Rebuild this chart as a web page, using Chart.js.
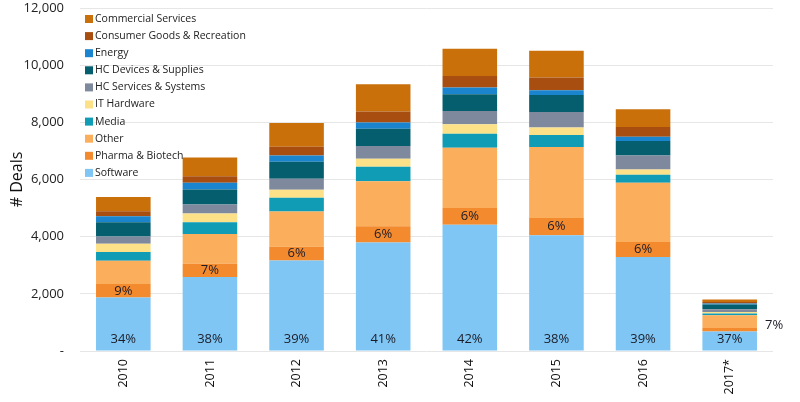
<!DOCTYPE html>
<html>
<head>
<meta charset="utf-8">
<script src="https://cdn.jsdelivr.net/npm/chart.js@4"></script>
<style>
  html, body { margin: 0; padding: 0; background: #fff; }
  #wrap { width: 800px; height: 402px; }
</style>
</head>
<body>
<div id="wrap"><canvas id="graficoDeals"></canvas></div>
<script>
const anos = ['2010', '2011', '2012', '2013', '2014', '2015', '2016', '2017*'];

// valores, de baixo para cima
const software   = [1870, 2586, 3169, 3800, 4421, 4046, 3288, 678];
const pharma     = [470, 467, 481, 561, 586, 611, 526, 127];
const other      = [818, 1042, 1228, 1579, 2105, 2477, 2070, 445];
const media      = [305, 407, 481, 505, 491, 421, 281, 58];
const itHardware = [291, 305, 281, 281, 326, 260, 186, 58];
const hcServices = [256, 316, 386, 442, 467, 547, 491, 94];
const hcDevices  = [491, 526, 597, 611, 586, 597, 502, 164];
const energy     = [211, 235, 221, 211, 235, 165, 154, 35];
const consumer   = [175, 232, 305, 386, 407, 446, 337, 58];
const commercial = [505, 656, 828, 958, 947, 933, 621, 82];

const pctSoftware = ['34%', '38%', '39%', '41%', '42%', '38%', '39%', '37%'];
const pctPharma   = ['9%', '7%', '6%', '6%', '6%', '6%', '6%', '7%'];

const yTicks = [0, 2000, 4000, 6000, 8000, 10000, 12000];

function serie(label, data, cor) {
    return {
        label,
        data,
        backgroundColor: cor,
        borderWidth: 0,
        barPercentage: 1,
        categoryPercentage: 0.63
    };
}

const datasets = [
    serie('Software', software, '#7FC6F4'),
    serie('Pharma & Biotech', pharma, '#F38A2E'),
    serie('Other', other, '#FBAE5C'),
    serie('Media', media, '#0F9CB4'),
    serie('IT Hardware', itHardware, '#FDE189'),
    serie('HC Services & Systems', hcServices, '#7E899D'),
    serie('HC Devices & Supplies', hcDevices, '#055E6D'),
    serie('Energy', energy, '#1B84CE'),
    serie('Consumer Goods & Recreation', consumer, '#A84E10'),
    serie('Commercial Services', commercial, '#C9700B')
];

const rotulosPlugin = {
    id: 'rotulos',
    afterDatasetsDraw(chart) {
        const ctx = chart.ctx;
        ctx.save();
        ctx.font = '13px "Open Sans"';
        ctx.fillStyle = '#1c1c28';
        ctx.textBaseline = 'middle';

        const metaSw = chart.getDatasetMeta(0);
        metaSw.data.forEach((bar, i) => {
            ctx.textAlign = 'center';
            ctx.fillText(pctSoftware[i], bar.x, bar.base - 11);
        });

        const metaPh = chart.getDatasetMeta(1);
        metaPh.data.forEach((bar, i) => {
            const meio = (bar.y + bar.base) / 2;
            if (i === metaPh.data.length - 1) {
                ctx.textAlign = 'left';
                ctx.fillText(pctPharma[i], bar.x + bar.width / 2 + 8, meio - 5);
            } else {
                ctx.textAlign = 'center';
                ctx.fillText(pctPharma[i], bar.x, meio);
            }
        });

        // legenda dentro da area do grafico
        ctx.font = '10.5px "Open Sans"';
        ctx.textAlign = 'left';
        const x0 = chart.chartArea.left + 5;
        let y = 19;
        for (let k = datasets.length - 1; k >= 0; k--) {
            ctx.fillStyle = datasets[k].backgroundColor;
            ctx.fillRect(x0, y - 4, 8, 8);
            ctx.fillStyle = '#222';
            ctx.fillText(datasets[k].label, x0 + 10, y);
            y += 17.1;
        }
        ctx.restore();
    }
};

const ctxDeals = document.getElementById('graficoDeals').getContext('2d');

new Chart(ctxDeals, {
    type: 'bar',
    data: {
        labels: anos,
        datasets
    },
    options: {
        responsive: true,
        maintainAspectRatio: false,
        animation: false,
        layout: {
            padding: { top: 0, right: 27, left: 4, bottom: 0 }
        },
        plugins: {
            legend: { display: false },
            tooltip: { enabled: false }
        },
        scales: {
            x: {
                stacked: true,
                grid: { display: false, drawTicks: false },
                border: { display: false },
                afterFit(axis) {
                    axis.height = 51;
                },
                ticks: {
                    color: '#111',
                    font: { family: 'Open Sans', size: 12.5 },
                    minRotation: 90,
                    maxRotation: 90,
                    padding: 8
                }
            },
            y: {
                stacked: true,
                min: 0,
                max: 12000,
                afterBuildTicks(axis) {
                    axis.ticks = yTicks.map(v => ({ value: v }));
                },
                afterFit(axis) {
                    axis.width = 76;
                    axis.paddingTop = 8;
                    axis.paddingBottom = 0;
                },
                grid: {
                    color: '#e6e6e6',
                    lineWidth: 1,
                    drawTicks: false
                },
                border: { display: false },
                ticks: {
                    color: '#222',
                    padding: 16,
                    font: { family: 'Open Sans', size: 13 },
                    callback: function (value) {
                        return value === 0 ? '-' : value.toLocaleString('en-US');
                    }
                },
                title: {
                    display: true,
                    text: '# Deals',
                    color: '#111',
                    font: { family: 'Open Sans', size: 16 },
                    padding: { top: 4, bottom: 4 }
                }
            }
        }
    },
    plugins: [rotulosPlugin]
});
</script>
</body>
</html>
